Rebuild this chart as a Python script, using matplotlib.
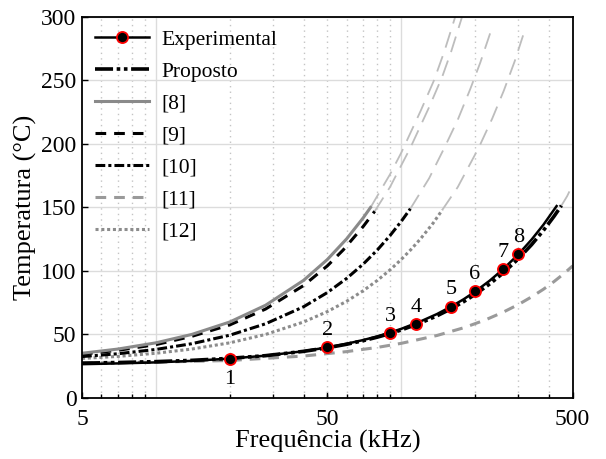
import matplotlib
matplotlib.use('Agg')
import matplotlib.pyplot as plt

plt.rcParams['font.family'] = ['Liberation Serif', 'DejaVu Serif']
plt.rcParams['mathtext.fontset'] = 'stix'

# experimental points (kHz, degC)
f_exp = [20, 50, 90, 115, 160, 200, 260, 300]
t_exp = [31, 40, 51, 58, 72, 84, 101.5, 113]
point_labels = ['1', '2', '3', '4', '5', '6', '7', '8']

# experimental fit line
f_exp_line = [5, 7, 10, 14, 20, 28, 40, 50, 60, 70, 80, 90, 100, 120, 140, 160, 180, 200, 230, 260, 300, 340, 380, 430]
t_exp_line = [26.6, 27.2, 28.0, 29.2, 31.0, 33.3, 36.8, 39.8, 42.7, 45.6, 48.5, 51.5, 54.4, 60.3, 66.1, 72.0, 77.8, 83.7, 92.5, 101.3, 113.0, 124.7, 136.4, 151.1]

# proposed model
f_prop = [5, 7, 10, 14, 20, 28, 40, 50, 60, 70, 80, 90, 100, 120, 140, 160, 180, 200, 230, 260, 300, 340, 380, 420, 450]
t_prop = [27.4, 27.9, 28.6, 29.6, 31.2, 33.3, 36.7, 39.5, 42.3, 45.1, 47.9, 50.7, 53.5, 59.1, 64.7, 70.3, 75.9, 81.5, 89.9, 98.3, 109.5, 120.7, 131.9, 143.1, 151.5]
f_prop_ext = [450, 475, 500]
t_prop_ext = [151.5, 159, 168]

# [8]
f_r8 = [5, 7, 10, 14, 20, 28, 40, 50, 60, 70, 75]
t_r8 = [35.2, 38.5, 43.4, 50, 59.8, 73, 92.6, 109, 125.4, 141.8, 150]
f_r8_ext = [75, 90, 100, 120, 136, 150, 166]
t_r8_ext = [150, 176, 193, 226, 250, 273, 300]

# [9]
f_r9 = [5, 7, 10, 14, 20, 28, 40, 50, 58, 70, 78]
t_r9 = [34.5, 37.5, 42, 48.5, 57.5, 70, 88.5, 104, 116.5, 135, 147]
f_r9_ext = [78, 90, 109, 130, 147, 160, 177]
t_r9_ext = [147, 166, 197, 229, 253, 273, 300]

# [10]
f_r10 = [5, 7, 10, 14, 20, 28, 40, 50, 60, 70, 80, 90, 100, 109]
t_r10 = [32.6, 34.8, 38.2, 42.7, 49.4, 58.4, 71.8, 83, 94.2, 105.4, 116.6, 127.8, 139, 149]
f_r10_ext = [109, 130, 150, 170, 191, 210, 235]
t_r10_ext = [149, 173, 197, 219, 243, 264, 292]

# [11]
f_r11 = [5, 10, 20, 40, 60, 80, 100, 140, 180, 220, 260, 300, 340, 380, 420, 460, 500]
t_r11 = [27.5, 28.2, 29.5, 33, 36.5, 39.8, 43, 49.2, 55.3, 61.4, 67.5, 73.5, 79.6, 85.6, 91.7, 97.8, 104]

# [12]
f_r12 = [5, 7, 10, 14, 20, 28, 40, 50, 60, 70, 80, 90, 100, 110, 120, 135, 147]
t_r12 = [31.1, 32.7, 35.2, 38.5, 43.4, 50, 59.8, 68, 76.2, 84.4, 92.6, 100.8, 109, 117.2, 125.4, 137.7, 148]
f_r12_ext = [147, 170, 207, 235, 262, 290, 322]
t_r12_ext = [148, 166, 197, 220, 242, 265, 292]

x_ticks = [5, 50, 500]
x_minor = [6, 7, 8, 9, 20, 30, 40, 50, 60, 70, 80, 90, 200, 300, 400]
y_ticks = [0, 50, 100, 150, 200, 250, 300]

fig = plt.figure(figsize=(6.06, 4.59), dpi=100)
ax = fig.add_axes([0.1353, 0.133, 0.8097, 0.830])
ax.set_xscale('log')

# grid
ax.xaxis.remove_overlapping_locs = False
ax.set_xticks(x_minor, minor=True)
ax.grid(which='minor', axis='x', color='#c4c4c4', linestyle=(0, (1, 3)), linewidth=1)
ax.grid(which='major', axis='y', color='#dcdcdc', linewidth=1)
for g in [10, 100]:
    ax.axvline(g, color='#dcdcdc', linewidth=1, zorder=0)
ax.set_axisbelow(True)

# light gray extrapolations
ext_kw = dict(color='#bdbdbd', linewidth=1.3, dashes=(9, 5))
ax.plot(f_r8_ext, t_r8_ext, **ext_kw)
ax.plot(f_r9_ext, t_r9_ext, **ext_kw)
ax.plot(f_r10_ext, t_r10_ext, **ext_kw)
ax.plot(f_r12_ext, t_r12_ext, **ext_kw)
ax.plot(f_prop_ext, t_prop_ext, **ext_kw)

l11, = ax.plot(f_r11, t_r11, color='#9a9a9a', linewidth=2.2, dashes=(3.5, 2.6), label='[11]')
l12, = ax.plot(f_r12, t_r12, color='#8c8c8c', linewidth=2.2, dashes=(1, 0.9), label='[12]')
l10, = ax.plot(f_r10, t_r10, color='black', linewidth=2.2, dashes=(3.2, 1, 1, 1), label='[10]')
l9, = ax.plot(f_r9, t_r9, color='black', linewidth=2.2, dashes=(3.5, 2.6), label='[9]')
l8, = ax.plot(f_r8, t_r8, color='#8a8a8a', linewidth=2.2, label='[8]')
lp, = ax.plot(f_prop, t_prop, color='black', linewidth=2.6, dashes=(5, 1, 1, 1, 1, 1), label='Proposto')
ax.plot(f_exp_line, t_exp_line, color='black', linewidth=1.8)
le, = ax.plot(f_exp, t_exp, color='black', linestyle='none', marker='o', markersize=8,
              markerfacecolor='black', markeredgecolor='red', markeredgewidth=1.3, zorder=5)
le_leg, = ax.plot([], [], color='black', linewidth=1.8, marker='o', markersize=8,
                  markerfacecolor='black', markeredgecolor='red', markeredgewidth=1.3)

for i in range(len(f_exp)):
    dy = -15 if i == 0 else 12
    ax.annotate(point_labels[i], (f_exp[i], t_exp[i]), xytext=(0, dy), textcoords='offset points',
                ha='center', va='center', fontsize=16)

ax.set_xlim(5, 500)
ax.set_ylim(0, 300)
ax.set_xticks(x_ticks)
ax.set_xticklabels([str(v) for v in x_ticks])
ax.xaxis.set_minor_formatter(matplotlib.ticker.NullFormatter())
ax.set_yticks(y_ticks)
ax.tick_params(which='both', direction='in', labelsize=17)
ax.tick_params(which='major', length=4, width=1, pad=4)
ax.tick_params(axis='x', which='major', pad=8)
ax.tick_params(which='minor', length=3, width=1)
for s in ax.spines.values():
    s.set_linewidth(1.3)

ax.set_xlabel('Frequência (kHz)', fontsize=19, labelpad=0)
ax.set_ylabel('Temperatura (°C)', fontsize=19, labelpad=3)

ax.legend([le_leg, lp, l8, l9, l10, l11, l12],
          ['Experimental', 'Proposto', '[8]', '[9]', '[10]', '[11]', '[12]'],
          loc='upper left', frameon=False, fontsize=15.5, handlelength=2.5,
          handletextpad=0.6, borderaxespad=0.2, labelspacing=0.55)

plt.savefig('out.png', dpi=100)
